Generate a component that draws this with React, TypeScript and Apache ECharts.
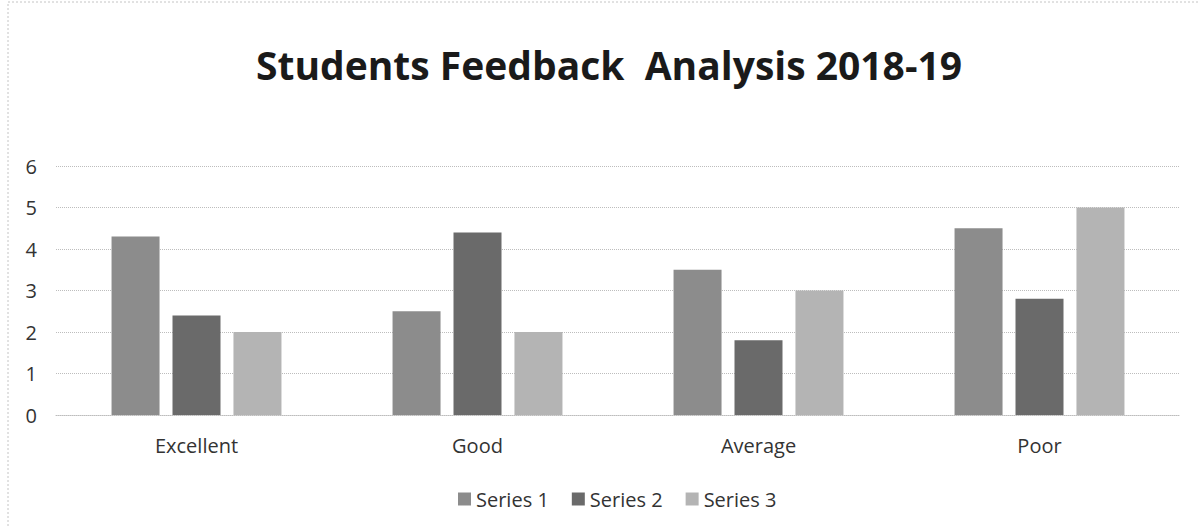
import React, { useEffect, useRef } from "react";
import * as echarts from "echarts";

const titleText = "Students Feedback  Analysis 2018-19";
const categories = ["Excellent", "Good", "Average", "Poor"];
const series1 = [4.3, 2.5, 3.5, 4.5];
const series2 = [2.4, 4.4, 1.8, 2.8];
const series3 = [2, 2, 3, 5];
const seriesNames = ["Series 1", "Series 2", "Series 3"];
const colors = ["#8c8c8c", "#6a6a6a", "#b4b4b4"];

export default function App() {
  const ref = useRef<HTMLDivElement>(null);
  useEffect(() => {
    const chart = echarts.init(ref.current!, null, { renderer: "svg" });
    const font = "'Open Sans', 'Noto Sans', sans-serif";
    chart.setOption({
      animation: false,
      backgroundColor: "#ffffff",
      graphic: [
        {
          type: "rect",
          shape: { x: 8, y: 2, width: 1200, height: 540 },
          style: { fill: "none", stroke: "#c4c4c4", lineWidth: 1, lineDash: [2, 2] },
          silent: true,
        },
        {
          type: "text",
          x: 609,
          y: 64,
          style: {
            text: titleText,
            fontFamily: font,
            fontSize: 39,
            fontWeight: "bold",
            fill: "#1a1a1a",
            textAlign: "center",
            textVerticalAlign: "middle",
          },
          silent: true,
        },
      ],
      legend: {
        top: 484,
        left: 453,
        itemWidth: 13,
        itemHeight: 13,
        itemGap: 23,
        icon: "rect",
        textStyle: { fontFamily: font, fontSize: 20, color: "#333333" },
        data: seriesNames,
      },
      grid: { left: 56, right: 18, top: 166, bottom: 113 },
      xAxis: {
        type: "category",
        data: categories,
        axisLine: { show: true, lineStyle: { color: "#bdbdbd", type: "dotted" } },
        axisTick: { show: false },
        axisLabel: { fontFamily: font, fontSize: 20, color: "#333333", margin: 20 },
      },
      yAxis: {
        type: "value",
        min: 0,
        max: 6,
        interval: 1,
        axisLine: { show: false },
        axisTick: { show: false },
        axisLabel: { fontFamily: font, fontSize: 20, color: "#333333", margin: 19 },
        splitLine: { lineStyle: { color: "#bdbdbd", type: "dotted", width: 1 } },
      },
      series: [series1, series2, series3].map((d, i) => ({
        name: seriesNames[i],
        type: "bar",
        data: d,
        barWidth: 48,
        barGap: "27%",
        itemStyle: { color: colors[i] },
      })),
    });
    return () => chart.dispose();
  }, []);
  return (
    <div
      ref={ref}
      style={{ position: "fixed", left: 0, top: 0, width: 1198, height: 528 }}
    />
  );
}
